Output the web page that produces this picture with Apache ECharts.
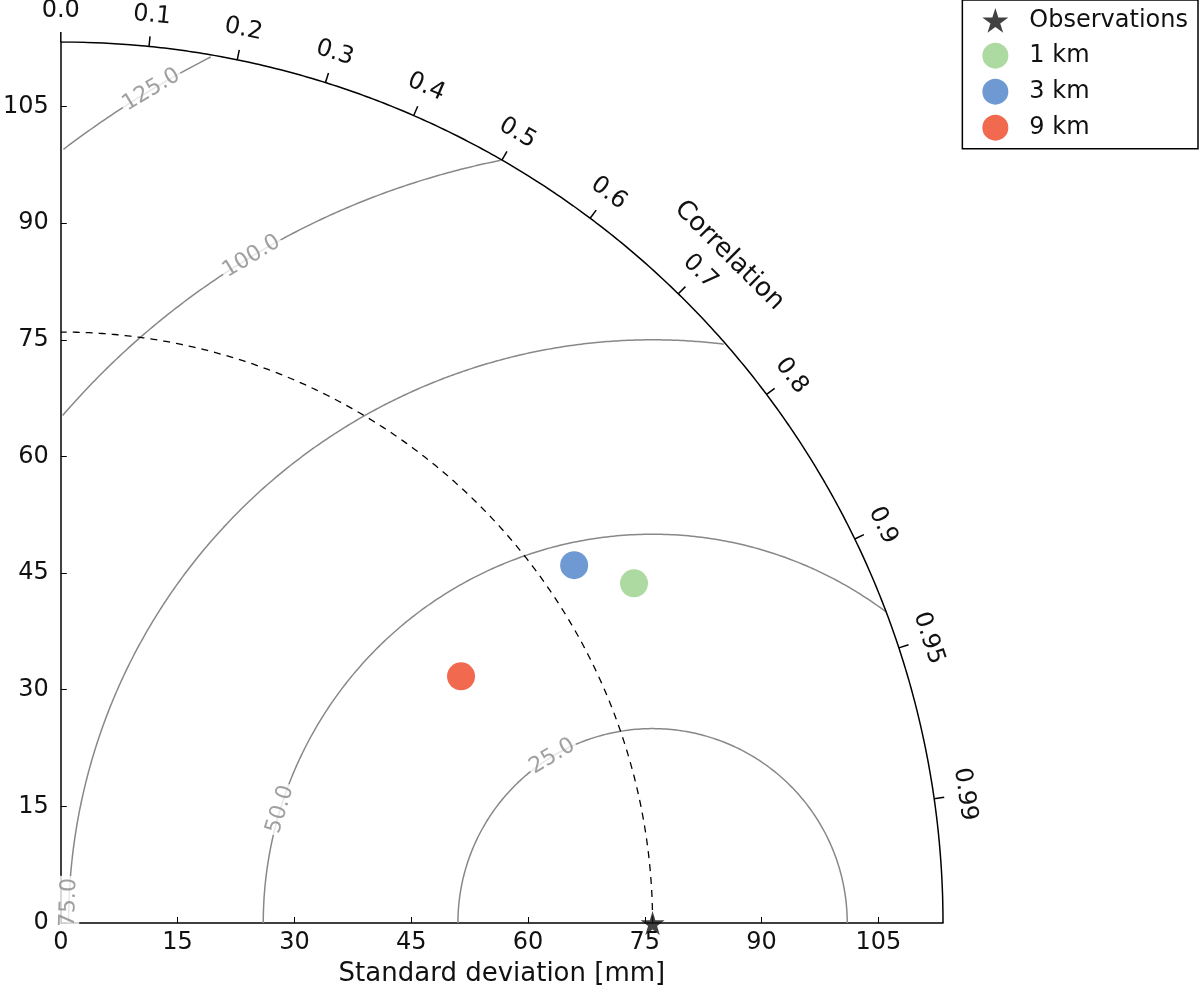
<!DOCTYPE html>
<html>
<head>
<meta charset="utf-8">
<script src="https://cdn.jsdelivr.net/npm/echarts@6/dist/echarts.min.js"></script>
<style>html,body{margin:0;background:#fff}#main{width:1200px;height:992px}</style>
</head>
<body>
<div id="main"></div>
<script>
// reference (observations) and model stats
var refStd = 76;
var maxStd = 113.3;
var modelNames = ['1 km', '3 km', '9 km'];
var modelStd = [85.6, 80.4, 60.4];
var modelCorr = [0.86, 0.82, 0.851];
var modelColors = ['#98d18a', '#4a7fc7', '#ee4422'];
var corrTicks = [0.0, 0.1, 0.2, 0.3, 0.4, 0.5, 0.6, 0.7, 0.8, 0.9, 0.95, 0.99];
var rmsLevels = [25, 50, 75, 100, 125];
var rmsLabelAngle = [121, 163, 178, 121, 121];

var star = 'path://M50,0 L61,35 L98,35 L68,57 L79,91 L50,70 L21,91 L32,57 L2,35 L39,35 Z';
var font = 'DejaVu Sans';

function arc(cx, r, a0, a1) {
  var pts = [];
  for (var a = a0; a <= a1 + 1e-9; a += 0.25) {
    var t = a * Math.PI / 180;
    var x = cx + r * Math.cos(t), y = r * Math.sin(t);
    if (x >= 0 && y >= -1e-9 && x * x + y * y <= maxStd * maxStd) pts.push([x, y]);
  }
  return pts;
}

var series = [];
// outer arc
series.push({type: 'line', data: arc(0, maxStd, 0, 90), showSymbol: false, silent: true,
  lineStyle: {color: '#000', width: 1.5}, z: 3});
// dashed reference arc
series.push({type: 'line', data: arc(0, refStd, 0, 90), showSymbol: false, silent: true,
  lineStyle: {color: '#000', width: 1.3, type: [7, 6]}, z: 3});
// rms contours
rmsLevels.forEach(function (r, i) {
  series.push({type: 'line', data: arc(refStd, r, 0, 180), showSymbol: false, silent: true,
    lineStyle: {color: '#888', width: 1.5}, z: 2});
});
// rms labels
series.push({type: 'scatter', symbolSize: 0, silent: true, z: 4,
  data: rmsLevels.map(function (r, i) {
    var t = rmsLabelAngle[i] * Math.PI / 180;
    return {value: [refStd + r * Math.cos(t), r * Math.sin(t)],
      label: {show: true, position: 'inside', formatter: r.toFixed(1), rotate: rmsLabelAngle[i] - 90,
        color: '#888', fontSize: 22, fontFamily: font, backgroundColor: '#fff', padding: [0, 2]}};
  })
});
// correlation ticks and labels
series.push({type: 'custom', silent: true, z: 5,
  renderItem: function (params, api) {
    var c = corrTicks[params.dataIndex], t = Math.acos(c);
    var p0 = api.coord([maxStd * Math.cos(t), maxStd * Math.sin(t)]);
    var p1 = api.coord([(maxStd + 1.3) * Math.cos(t), (maxStd + 1.3) * Math.sin(t)]);
    var pl = api.coord([(maxStd + 4) * Math.cos(t), (maxStd + 4) * Math.sin(t)]);
    var label = c === 0 ? '0.0' : String(c);
    return {type: 'group', children: [
      {type: 'line', shape: {x1: p0[0], y1: p0[1], x2: p1[0], y2: p1[1]}, style: {stroke: '#000', lineWidth: 1.5}},
      {type: 'text', x: pl[0], y: pl[1], rotation: t - Math.PI / 2,
        style: {text: label, fontSize: 24, fontFamily: font, fill: '#111', align: 'center', verticalAlign: 'middle'}}
    ]};
  },
  data: corrTicks.map(function (c) { return [c]; })
});
// "Correlation" title
series.push({type: 'custom', silent: true, z: 5,
  renderItem: function (params, api) {
    var t = 45 * Math.PI / 180;
    var p = api.coord([(maxStd + 9) * Math.cos(t) * 1.0, (maxStd + 9) * Math.sin(t)]);
    return {type: 'text', x: p[0] - 5, y: p[1] + 5, rotation: -t,
      style: {text: 'Correlation', fontSize: 26, fontFamily: font, fill: '#111', align: 'center', verticalAlign: 'middle'}};
  }, data: [[0]]});
// observations
series.push({name: 'Observations', type: 'scatter', symbol: star, symbolSize: 24, z: 6,
  itemStyle: {color: '#111'}, data: [[refStd, 0]]});
// models
modelNames.forEach(function (n, i) {
  var s = modelStd[i], c = modelCorr[i];
  series.push({name: n, type: 'scatter', symbol: 'circle', symbolSize: 28, z: 6,
    itemStyle: {color: modelColors[i]},
    data: [[s * c, s * Math.sqrt(1 - c * c)]]});
});

var chart = echarts.init(document.getElementById('main'));
chart.setOption({
  animation: false,
  grid: {left: 59, top: 42, width: 884, height: 884},
  xAxis: {type: 'value', min: 0, max: maxStd, interval: 15, splitLine: {show: false},
    name: 'Standard deviation [mm]', nameLocation: 'middle', nameGap: 38,
    nameTextStyle: {fontSize: 26, fontFamily: font, color: '#111'},
    axisLine: {onZero: false, lineStyle: {color: '#000', width: 1.5}},
    axisTick: {inside: true, length: 6, lineStyle: {color: '#000'}},
    axisLabel: {fontSize: 24, fontFamily: font, color: '#111', margin: 8, showMaxLabel: false}},
  yAxis: {type: 'value', min: 0, max: maxStd, interval: 15, splitLine: {show: false},
    axisLine: {onZero: false, lineStyle: {color: '#000', width: 1.5}},
    axisTick: {inside: true, length: 6, lineStyle: {color: '#000'}},
    axisLabel: {fontSize: 24, fontFamily: font, color: '#111', margin: 12, showMaxLabel: false}},
  legend: {right: 2, top: 0, orient: 'vertical', itemGap: 10, itemWidth: 26, itemHeight: 26,
    borderColor: '#000', borderWidth: 1.5, padding: [8, 10, 8, 20], borderRadius: 0,
    backgroundColor: '#fff',
    textStyle: {fontSize: 24, fontFamily: font, color: '#111', padding: [0, 0, 0, 16]},
    data: ['Observations'].concat(modelNames)},
  series: series
});
</script>
</body>
</html>
